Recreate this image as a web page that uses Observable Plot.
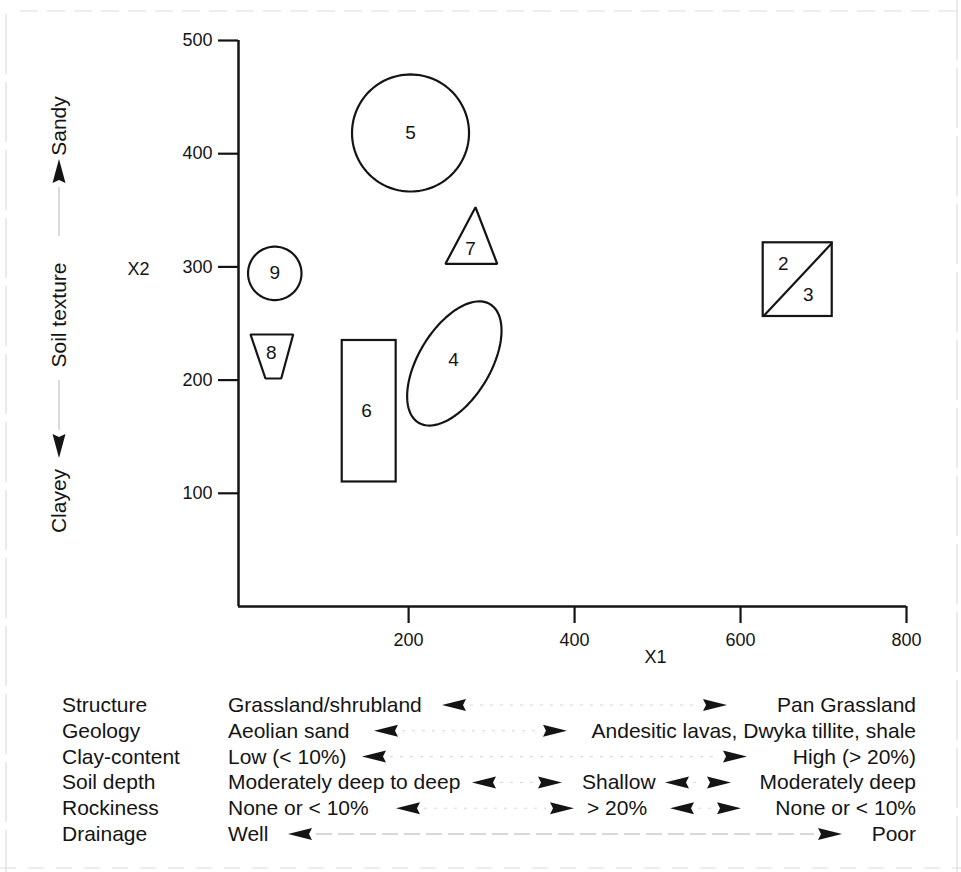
<!DOCTYPE html>
<html>
<head>
<meta charset="utf-8">
<script src="https://cdn.jsdelivr.net/npm/d3@7"></script>
<script src="https://cdn.jsdelivr.net/npm/@observablehq/plot@0.6"></script>
<style>
  html, body { margin: 0; padding: 0; background: #fff; }
  #wrap { position: relative; width: 961px; height: 872px; overflow: hidden;
          font-family: "Liberation Sans", Arial, Helvetica, sans-serif; color: #141414; }
  #wrap > svg { position: absolute; left: 0; top: 0; }
</style>
</head>
<body>
<div id="wrap"></div>
<script>
// ---------------- data ----------------
const xDomain = [-5, 800];
const yDomain = [0, 500];
const xTicks = [200, 400, 600, 800];
const yTicks = [100, 200, 300, 400, 500];
const xAxisTitle = "X1";
const yAxisTitle = "X2";

// ellipses / circles: centre + two conjugate semi-diameters (data units)
const ellipseIds = ["5", "9", "4"];
const ellipseCx = [202.3, 38.7, 255.1];
const ellipseCy = [418.3, 294.3, 214.7];
const ellipsePx = [70.5, 32.2, 43.2];
const ellipsePy = [0, 0, 52.3];
const ellipseQx = [0, 0, -37.0];
const ellipseQy = [51.7, 23.6, 16.5];

// rectangles (6 and the split square 2/3)
const rectIds = ["6", "2/3"];
const rectX1 = [120.0, 627.3];
const rectX2 = [185.0, 710.5];
const rectY1 = [110.0, 256.2];
const rectY2 = [235.0, 321.3];
const splitRects = ["2/3"]; // diagonal drawn bottom-left to top-right

// polygons
const trapezoid8X = [9.5, 60.9, 46.5, 27.5];
const trapezoid8Y = [240.3, 240.3, 201.4, 201.4];
const triangle7X = [280.6, 306.8, 244.4];
const triangle7Y = [352.7, 302.7, 302.7];

// group number labels
const labelText = ["2", "3", "4", "5", "6", "7", "8", "9"];
const labelX = [651.4, 681.6, 254.1, 202.3, 149.3, 274.6, 34.4, 38.7];
const labelY = [302.9, 274.9, 218.0, 418.3, 173.1, 315.5, 223.8, 294.3];

// left gradient annotation
const textureHigh = "Sandy";
const textureName = "Soil texture";
const textureLow = "Clayey";

// bottom table of environmental gradients
const factorNames = ["Structure", "Geology", "Clay-content", "Soil depth", "Rockiness", "Drainage"];
const lowTerms = ["Grassland/shrubland", "Aeolian sand", "Low (< 10%)", "Moderately deep to deep", "None or < 10%", "Well"];
const midTerms = ["", "", "", "Shallow", "> 20%", ""];
const highTerms = ["Pan Grassland", "Andesitic lavas, Dwyka tillite, shale", "High (> 20%)", "Moderately deep", "None or < 10%", "Poor"];

// ---------------- tables built from the arrays ----------------
const ellipses = ellipseIds.map((id, i) => ({
  id, cx: ellipseCx[i], cy: ellipseCy[i],
  px: ellipsePx[i], py: ellipsePy[i], qx: ellipseQx[i], qy: ellipseQy[i]
}));
const N = 120;
const ellipsePts = ellipses.flatMap(e => d3.range(N).map(j => {
  const t = 2 * Math.PI * j / N;
  return { id: e.id,
    x: e.cx + Math.cos(t) * e.px + Math.sin(t) * e.qx,
    y: e.cy + Math.cos(t) * e.py + Math.sin(t) * e.qy };
}));
const rects = rectIds.map((id, i) => ({ id, x1: rectX1[i], x2: rectX2[i], y1: rectY1[i], y2: rectY2[i] }));
const diagonals = rects.filter(r => splitRects.includes(r.id));
const polyPts = [
  ...trapezoid8X.map((x, i) => ({ id: "8", x, y: trapezoid8Y[i] })),
  ...triangle7X.map((x, i) => ({ id: "7", x, y: triangle7Y[i] }))
];
const labels = labelText.map((t, i) => ({ t, x: labelX[i], y: labelY[i] }));

// ---------------- plot ----------------
const ink = "#141414";
const font = "'Liberation Sans', Arial, Helvetica, sans-serif";

const chart = Plot.plot({
  width: 961,
  height: 680,
  marginLeft: 238,
  marginRight: 55,
  marginTop: 40,
  marginBottom: 74,
  x: { domain: xDomain },
  y: { domain: yDomain },
  style: { fontFamily: font, fontSize: "18px", color: ink, background: "transparent", overflow: "visible" },
  marks: [
    Plot.axisX({ ticks: xTicks, tickSize: 17, tickPadding: 10, strokeWidth: 2.2, fontSize: 18, label: null, fill: ink }),
    Plot.axisY({ ticks: yTicks, tickSize: 20, tickPadding: 6, strokeWidth: 2.2, fontSize: 18, label: null, fill: ink }),
    Plot.ruleX([xDomain[0]], { stroke: ink, strokeWidth: 2.5 }),
    Plot.ruleY([yDomain[0]], { stroke: ink, strokeWidth: 2.5 }),
    Plot.line(ellipsePts, { x: "x", y: "y", z: "id", curve: "linear-closed", stroke: ink, strokeWidth: 2.2 }),
    Plot.line(polyPts, { x: "x", y: "y", z: "id", curve: "linear-closed", stroke: ink, strokeWidth: 2.2, strokeLinejoin: "miter" }),
    Plot.rect(rects, { x1: "x1", x2: "x2", y1: "y1", y2: "y2", fill: "none", stroke: ink, strokeWidth: 2.2 }),
    Plot.link(diagonals, { x1: "x1", y1: "y1", x2: "x2", y2: "y2", stroke: ink, strokeWidth: 2.2 }),
    Plot.text(labels, { x: "x", y: "y", text: "t", fontSize: 19, fill: ink }),
    Plot.text([xAxisTitle], { frameAnchor: "bottom", dx: 83, dy: 56, fontSize: 18, fill: ink }),
    Plot.text([yAxisTitle], { frameAnchor: "left", dx: -111, dy: -54, fontSize: 18, fill: ink })
  ]
});

const wrap = document.getElementById("wrap");
wrap.appendChild(chart);

// ---------------- annotation overlay (left gradient + bottom table) ----------------
const svg = d3.select(wrap).append("svg")
  .attr("width", 961).attr("height", 872)
  .style("pointer-events", "none")
  .attr("font-family", font).attr("fill", ink);

// faint edges of the scanned page
const edge = svg.append("g").attr("stroke", "#dcdcdc").attr("stroke-width", 1.2).attr("fill", "none");
edge.append("line").attr("x1", 20).attr("x2", 961).attr("y1", 11).attr("y2", 11).attr("stroke-dasharray", "18 9");
edge.append("line").attr("x1", 6).attr("x2", 6).attr("y1", 14).attr("y2", 872).attr("stroke-dasharray", "60 8");
edge.append("line").attr("x1", 957).attr("x2", 957).attr("y1", 0).attr("y2", 872).attr("stroke-dasharray", "60 8");
edge.append("line").attr("x1", 0).attr("x2", 961).attr("y1", 868).attr("y2", 868).attr("stroke-dasharray", "16 12");

function arrow(g, x, yc, dir) {
  // filled arrowhead 24 x 12, dir "L" or "R"; x = left edge
  const w = 24, h = 12;
  const p = dir === "L"
    ? `M${x},${yc} L${x + w},${yc - h / 2} L${x + w - 3},${yc} L${x + w},${yc + h / 2} Z`
    : `M${x + w},${yc} L${x},${yc - h / 2} L${x + 3},${yc} L${x},${yc + h / 2} Z`;
  g.append("path").attr("d", p).attr("fill", ink);
}
function vArrow(g, xc, y, dir) {
  const w = 13, h = 24;
  const p = dir === "U"
    ? `M${xc},${y} L${xc + w / 2},${y + h} L${xc},${y + h - 3} L${xc - w / 2},${y + h} Z`
    : `M${xc},${y + h} L${xc + w / 2},${y} L${xc},${y + 3} L${xc - w / 2},${y} Z`;
  g.append("path").attr("d", p).attr("fill", ink);
}

// left: Sandy ▲ —— Soil texture —— ▼ Clayey
const left = svg.append("g");
const lx = 59;
[[textureHigh, 126], [textureName, 315], [textureLow, 501]].forEach(([t, yc]) => {
  left.append("text").attr("transform", `translate(${lx + 7},${yc}) rotate(-90)`)
    .attr("text-anchor", "middle").attr("font-size", 21).text(t);
});
vArrow(left, lx, 159, "U");
vArrow(left, lx, 434, "D");
left.append("line").attr("x1", lx).attr("x2", lx).attr("y1", 187).attr("y2", 236)
  .attr("stroke", "#b5b5b5").attr("stroke-width", 1);
left.append("line").attr("x1", lx).attr("x2", lx).attr("y1", 380).attr("y2", 430)
  .attr("stroke", "#b5b5b5").attr("stroke-width", 1);

// bottom table
const tbl = svg.append("g").attr("font-size", 21);
const base0 = 712, step = 25.8;
const arrowsLayout = [
  [[442, "L"], [703, "R"]],
  [[374, "L"], [543, "R"]],
  [[362, "L"], [723, "R"]],
  [[472, "L"], [538, "R"], [665, "L"], [707, "R"]],
  [[396, "L"], [550, "R"], [670, "L"], [717, "R"]],
  [[288, "L"], [818, "R"]]
];
const midX = [0, 0, 0, 582, 587, 0];
factorNames.forEach((f, i) => {
  const yb = base0 + i * step;
  const yc = yb - 7;
  tbl.append("text").attr("x", 62).attr("y", yb).text(f);
  tbl.append("text").attr("x", 228).attr("y", yb).text(lowTerms[i]);
  tbl.append("text").attr("x", 916).attr("y", yb).attr("text-anchor", "end").text(highTerms[i]);
  if (midTerms[i]) tbl.append("text").attr("x", midX[i]).attr("y", yb).text(midTerms[i]);
  const arr = arrowsLayout[i];
  for (let k = 0; k + 1 < arr.length; k += 2) {
    const a = arr[k], b = arr[k + 1];
    tbl.append("line").attr("x1", a[0] + 28).attr("x2", b[0] - 4).attr("y1", yc).attr("y2", yc)
      .attr("stroke", i === 5 ? "#b0b0b0" : "#d6d6d6").attr("stroke-width", 1)
      .attr("stroke-dasharray", i === 5 ? "16 6" : "3 7");
  }
  arr.forEach(([x, d]) => arrow(tbl, x, yc, d));
});
</script>
</body>
</html>
